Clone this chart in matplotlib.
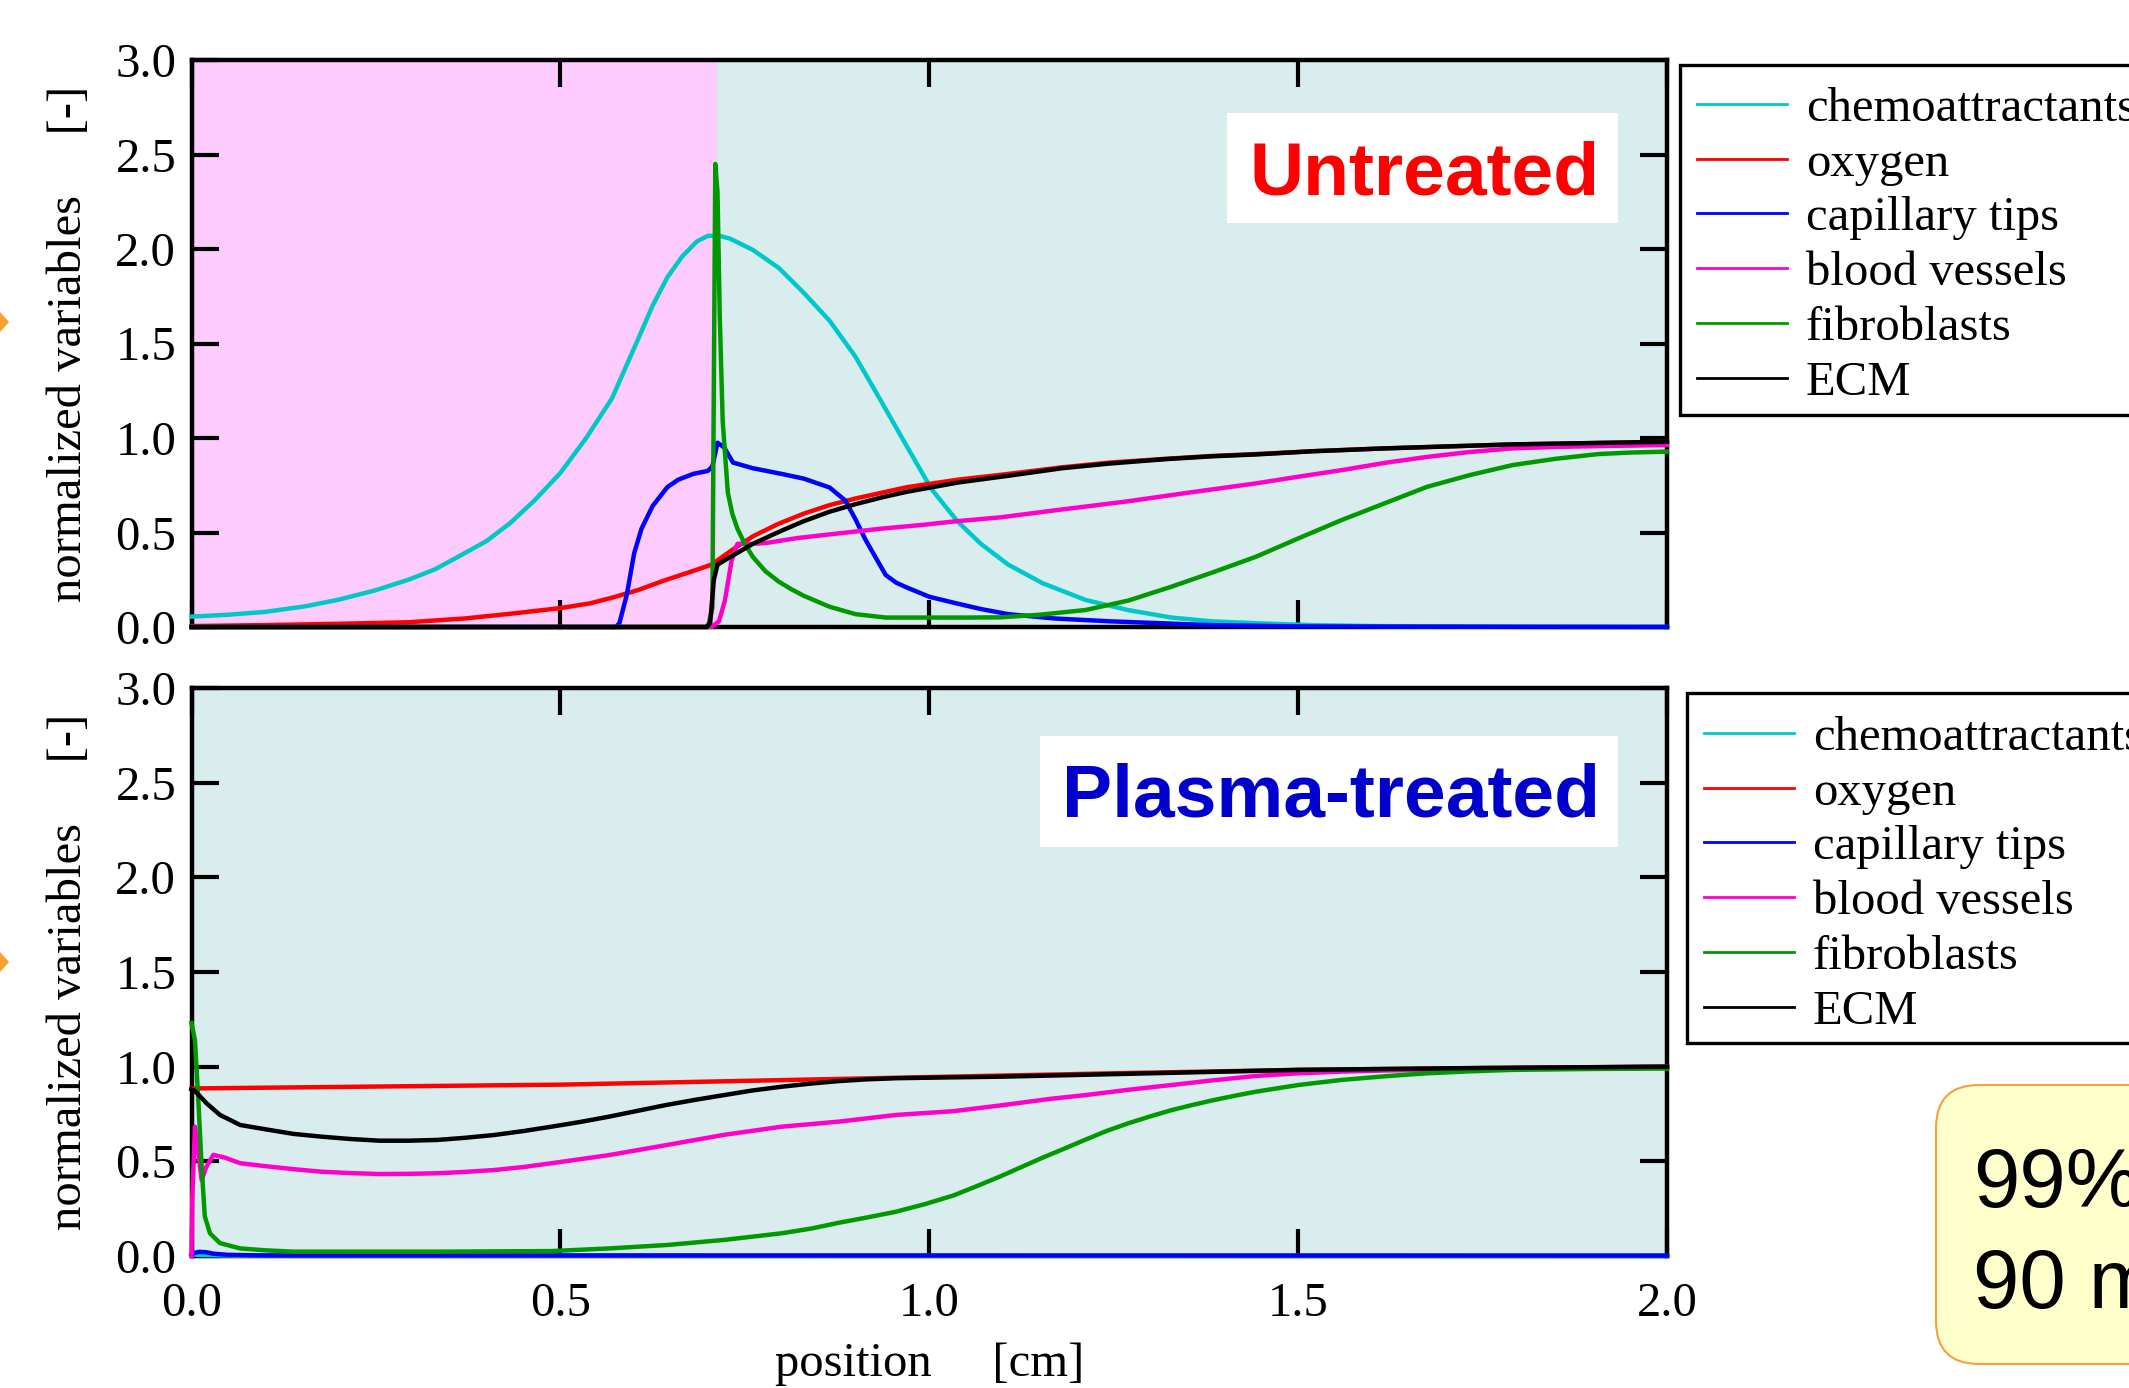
"""Wound healing model profiles: untreated vs plasma-treated."""

import matplotlib

matplotlib.use("Agg")
import matplotlib.pyplot as plt
from matplotlib.patches import FancyBboxPatch, Polygon, Rectangle
from matplotlib.ticker import FormatStrFormatter

plt.rcParams["font.family"] = ["Liberation Serif", "DejaVu Serif"]

LABELS = ["chemoattractants", "oxygen", "capillary tips", "blood vessels", "fibroblasts", "ECM"]
COLORS = ["#00C8C8", "#FF0000", "#0000FF", "#FF00CC", "#009900", "#000000"]
PINK_EDGE = 0.712  # untreated wound region, cm
FS = 35

# ---- untreated (top panel) ----
u_chemo_x = [0, 0.05, 0.1, 0.155, 0.2, 0.25, 0.294, 0.33, 0.363, 0.40, 0.432, 0.465, 0.50,
             0.535, 0.57, 0.605, 0.625, 0.645, 0.665, 0.685, 0.70, 0.715, 0.73, 0.761, 0.796,
             0.83, 0.865, 0.90, 0.934, 0.969, 1.003, 1.038, 1.07, 1.107, 1.154, 1.212, 1.269,
             1.328, 1.383, 1.443, 1.52, 1.6, 1.8, 2.0]
u_chemo_y = [0.055, 0.065, 0.08, 0.11, 0.145, 0.195, 0.25, 0.305, 0.375, 0.455, 0.55, 0.67, 0.815,
             1.0, 1.21, 1.52, 1.70, 1.85, 1.96, 2.04, 2.07, 2.07, 2.055, 1.995, 1.90,
             1.768, 1.62, 1.43, 1.20, 0.96, 0.73, 0.56, 0.44, 0.33, 0.231, 0.143, 0.09,
             0.05, 0.03, 0.02, 0.01, 0.005, 0.0, 0.0]

u_oxy_x = [0, 0.1, 0.2, 0.294, 0.37, 0.432, 0.5, 0.54, 0.57, 0.605, 0.64, 0.675, 0.705, 0.73,
           0.761, 0.795, 0.83, 0.865, 0.9, 0.935, 0.97, 1.04, 1.107, 1.18, 1.245, 1.32, 1.383,
           1.443, 1.52, 1.617, 1.79, 2.0]
u_oxy_y = [0.005, 0.01, 0.017, 0.025, 0.045, 0.07, 0.10, 0.125, 0.155, 0.195, 0.245, 0.29, 0.33,
           0.40, 0.48, 0.545, 0.60, 0.645, 0.68, 0.71, 0.74, 0.78, 0.81, 0.845, 0.87, 0.89, 0.905,
           0.915, 0.93, 0.945, 0.966, 0.98]

u_tips_x = [0, 0.575, 0.58, 0.59, 0.60, 0.61, 0.625, 0.645, 0.66, 0.68, 0.70, 0.706, 0.713,
            0.722, 0.734, 0.761, 0.80, 0.83, 0.865, 0.886, 0.90, 0.913, 0.927, 0.941, 0.955,
            0.969, 1.0, 1.038, 1.07, 1.107, 1.17, 1.245, 1.383, 1.5, 2.0]
u_tips_y = [0, 0, 0.02, 0.17, 0.39, 0.52, 0.64, 0.74, 0.78, 0.81, 0.826, 0.85, 0.975,
            0.95, 0.87, 0.84, 0.81, 0.785, 0.738, 0.67, 0.57, 0.466, 0.37, 0.275, 0.235,
            0.21, 0.16, 0.124, 0.095, 0.068, 0.045, 0.03, 0.01, 0.003, 0]

u_vess_x = [0, 0.705, 0.715, 0.723, 0.732, 0.74, 0.76, 0.78, 0.82, 0.865, 0.934, 0.99, 1.038,
            1.096, 1.176, 1.269, 1.35, 1.443, 1.5, 1.559, 1.62, 1.675, 1.73, 1.79, 1.85, 1.907, 2.0]
u_vess_y = [0, 0, 0.03, 0.14, 0.35, 0.44, 0.44, 0.445, 0.47, 0.49, 0.52, 0.54, 0.56,
            0.58, 0.62, 0.665, 0.71, 0.76, 0.795, 0.83, 0.87, 0.90, 0.925, 0.945, 0.953, 0.957, 0.963]

u_fib_x = [0, 0.700, 0.706, 0.710, 0.713, 0.716, 0.72, 0.727, 0.733, 0.74, 0.75, 0.761, 0.778,
           0.796, 0.813, 0.83, 0.865, 0.9, 0.941, 1.0, 1.05, 1.096, 1.15, 1.212, 1.27, 1.328,
           1.385, 1.443, 1.501, 1.559, 1.617, 1.675, 1.733, 1.791, 1.849, 1.907, 1.95, 2.0]
u_fib_y = [0, 0, 0.1, 2.45, 2.3, 1.65, 1.09, 0.71, 0.60, 0.52, 0.44, 0.37, 0.295,
           0.24, 0.2, 0.165, 0.107, 0.068, 0.05, 0.05, 0.05, 0.051, 0.065, 0.09, 0.14, 0.213,
           0.29, 0.372, 0.47, 0.566, 0.654, 0.742, 0.804, 0.857, 0.89, 0.915, 0.923, 0.928]

u_ecm_x = [0, 0.698, 0.703, 0.708, 0.713, 0.73, 0.761, 0.80, 0.83, 0.865, 0.9, 0.935, 0.969,
           1.04, 1.107, 1.18, 1.245, 1.32, 1.383, 1.443, 1.52, 1.617, 1.79, 2.0]
u_ecm_y = [0, 0, 0.02, 0.25, 0.33, 0.37, 0.44, 0.51, 0.56, 0.61, 0.65, 0.685, 0.715,
           0.765, 0.80, 0.84, 0.865, 0.888, 0.903, 0.913, 0.93, 0.945, 0.966, 0.98]

# ---- plasma-treated (bottom panel) ----
p_chemo_x = [0, 0.02, 0.06, 2.0]
p_chemo_y = [0.008, 0.005, 0.002, 0.0]

p_oxy_x = [0, 0.5, 1.0, 1.25, 1.5, 1.75, 2.0]
p_oxy_y = [0.885, 0.905, 0.945, 0.965, 0.983, 0.993, 1.0]

p_tips_x = [0, 0.003, 0.01, 0.02, 0.03, 0.05, 0.1, 2.0]
p_tips_y = [0.005, 0.015, 0.022, 0.02, 0.012, 0.006, 0.003, 0.002]

p_vess_x = [0, 0.001, 0.0047, 0.009, 0.0138, 0.02, 0.0296, 0.045, 0.066, 0.099, 0.14, 0.177,
            0.215, 0.255, 0.295, 0.333, 0.37, 0.41, 0.45, 0.488, 0.566, 0.644, 0.722, 0.80,
            0.878, 0.955, 1.033, 1.096, 1.164, 1.212, 1.27, 1.328, 1.385, 1.443, 1.5, 1.559,
            1.62, 1.675, 1.8, 2.0]
p_vess_y = [0, 0.3, 0.683, 0.55, 0.40, 0.47, 0.534, 0.52, 0.49, 0.475, 0.458, 0.445,
            0.438, 0.433, 0.434, 0.437, 0.444, 0.454, 0.47, 0.49, 0.533, 0.586, 0.64, 0.683,
            0.71, 0.745, 0.765, 0.795, 0.83, 0.85, 0.878, 0.903, 0.928, 0.951, 0.965, 0.974,
            0.98, 0.983, 0.993, 1.0]

p_fib_x = [0, 0.0047, 0.0092, 0.0138, 0.018, 0.025, 0.0386, 0.066, 0.1, 0.138, 0.333, 0.488,
           0.566, 0.644, 0.722, 0.80, 0.84, 0.878, 0.915, 0.955, 0.995, 1.033, 1.065, 1.096,
           1.125, 1.154, 1.183, 1.212, 1.24, 1.269, 1.3, 1.328, 1.357, 1.386, 1.415, 1.443,
           1.5, 1.559, 1.62, 1.675, 1.73, 1.79, 1.9, 2.0]
p_fib_y = [1.23, 1.14, 0.824, 0.47, 0.21, 0.12, 0.068, 0.04, 0.03, 0.023, 0.023, 0.026,
           0.04, 0.058, 0.085, 0.12, 0.145, 0.176, 0.203, 0.234, 0.275, 0.32, 0.37, 0.42,
           0.47, 0.52, 0.567, 0.615, 0.66, 0.70, 0.738, 0.77, 0.798, 0.824, 0.847, 0.868,
           0.903, 0.93, 0.95, 0.965, 0.975, 0.983, 0.988, 0.99]

p_ecm_x = [0, 0.005, 0.0206, 0.0386, 0.066, 0.099, 0.138, 0.177, 0.215, 0.255, 0.295, 0.333,
           0.37, 0.41, 0.45, 0.488, 0.527, 0.566, 0.605, 0.644, 0.683, 0.722, 0.76, 0.80,
           0.84, 0.878, 0.915, 0.955, 1.02, 1.096, 1.3, 1.5, 1.75, 2.0]
p_ecm_y = [0.88, 0.87, 0.806, 0.745, 0.692, 0.67, 0.645, 0.63, 0.618, 0.609, 0.609, 0.613,
           0.624, 0.639, 0.66, 0.683, 0.708, 0.736, 0.767, 0.798, 0.825, 0.85, 0.874, 0.894,
           0.911, 0.924, 0.933, 0.939, 0.943, 0.947, 0.965, 0.983, 0.993, 1.0]

UNTREATED = [(u_chemo_x, u_chemo_y), (u_oxy_x, u_oxy_y), (u_tips_x, u_tips_y),
             (u_vess_x, u_vess_y), (u_fib_x, u_fib_y), (u_ecm_x, u_ecm_y)]
TREATED = [(p_chemo_x, p_chemo_y), (p_oxy_x, p_oxy_y), (p_tips_x, p_tips_y),
           (p_vess_x, p_vess_y), (p_fib_x, p_fib_y), (p_ecm_x, p_ecm_y)]

W, H = 2129, 1388
BG = "#DAEDEE"


def _style_axes(ax, show_xlabels):
    ax.set_facecolor(BG)
    ax.set_xlim(0, 2.0)
    ax.set_ylim(0, 3.0)
    ax.set_xticks([0, 0.5, 1.0, 1.5, 2.0])
    ax.set_yticks([0, 0.5, 1.0, 1.5, 2.0, 2.5, 3.0])
    ax.xaxis.set_major_formatter(FormatStrFormatter("%.1f"))
    ax.yaxis.set_major_formatter(FormatStrFormatter("%.1f"))
    ax.tick_params(direction="in", length=19.5, width=3, top=True, right=True,
                   labelsize=FS, color="black")
    ax.tick_params(axis="y", pad=11)
    ax.tick_params(axis="x", pad=19, labelbottom=show_xlabels)
    for sp in ax.spines.values():
        sp.set_linewidth(3.2)
        sp.set_zorder(2.5)
    ax.set_ylabel("normalized variables     [-]", fontsize=FS)
    ax.yaxis.set_label_coords(-0.068, 0.5)


def _draw_panel(ax, series, frame_px, legend_top_px):
    handles = []
    for (xs, ys), label, color in zip(series, LABELS, COLORS):
        (ln,) = ax.plot(xs, ys, color=color, lw=3.2, label=label, zorder=3, clip_on=False,
                        solid_joinstyle="round")
        handles.append(ln)
    # legend frame drawn by hand (behind the legend) so rows sit where the slide has them
    x0, y_top, y_bot = frame_px
    ax.figure.patches.append(Rectangle((x0, H - y_bot), 600, y_bot - y_top, transform=None,
                                       facecolor="white", edgecolor="black", lw=2.4,
                                       zorder=-1))
    leg = ax.legend(handles=handles, loc="upper left",
                    bbox_to_anchor=(x0 / W, 1 - legend_top_px / H),
                    bbox_transform=ax.figure.transFigure, fontsize=FS, frameon=False,
                    borderaxespad=0, borderpad=0.35, labelspacing=0.22,
                    handlelength=1.86, handletextpad=0.38)
    for line in leg.get_lines():
        line.set_linewidth(2.0)


fig = plt.figure(figsize=(W / 100, H / 100), dpi=100)
ax_top = fig.add_axes([191.5 / W, 1 - 627 / H, 1475.5 / W, 567 / H])
ax_bot = fig.add_axes([191.5 / W, 1 - 1256 / H, 1475.5 / W, 568 / H])

_style_axes(ax_top, False)
_style_axes(ax_bot, True)
ax_top.axvspan(0, PINK_EDGE, color="#FDCBFD", zorder=0.5, lw=0)

_draw_panel(ax_top, UNTREATED, (1680, 65, 415), 70)
_draw_panel(ax_bot, TREATED, (1687, 693, 1043), 699)

ax_bot.set_xlabel("position     [cm]", fontsize=FS)
ax_bot.xaxis.set_label_coords(0.5, -0.151)

# title boxes
ax_top.add_patch(Rectangle((0.702, 0.7125), 0.265, 0.194, transform=ax_top.transAxes,
                           facecolor="white", edgecolor="none", zorder=4))
ax_top.text(0.836, 0.762, "Untreated", transform=ax_top.transAxes, ha="center",
            va="baseline", fontsize=54, fontweight="bold", color="#FF0000",
            family="Liberation Sans", zorder=5)
ax_bot.add_patch(Rectangle((0.575, 0.72), 0.392, 0.1955, transform=ax_bot.transAxes,
                           facecolor="white", edgecolor="none", zorder=4))
ax_bot.text(0.772, 0.773, "Plasma-treated", transform=ax_bot.transAxes, ha="center",
            va="baseline", fontsize=54, fontweight="bold", color="#0000CC",
            family="Liberation Sans", zorder=5)

# slide decorations cropped at the edges
for tip_y in (322, 962):
    fig.patches.append(Polygon([(0, H - tip_y + 10), (9, H - tip_y), (0, H - tip_y - 10)],
                               closed=True, transform=None, facecolor="#F7A030",
                               edgecolor="none"))
fig.patches.append(FancyBboxPatch((1936, H - 1364), 300, 279,
                                  boxstyle="round,pad=0,rounding_size=43", transform=None,
                                  facecolor="#FFFFCC", edgecolor="#F7A040", lw=1.5))
fig.text(1973 / W, (H - 1207) / H, "99%", fontsize=60, family="Liberation Sans",
         va="baseline", ha="left")
fig.text(1973 / W, (H - 1308) / H, "90 min", fontsize=60, family="Liberation Sans",
         va="baseline", ha="left")

fig.savefig("out.png", dpi=100)
